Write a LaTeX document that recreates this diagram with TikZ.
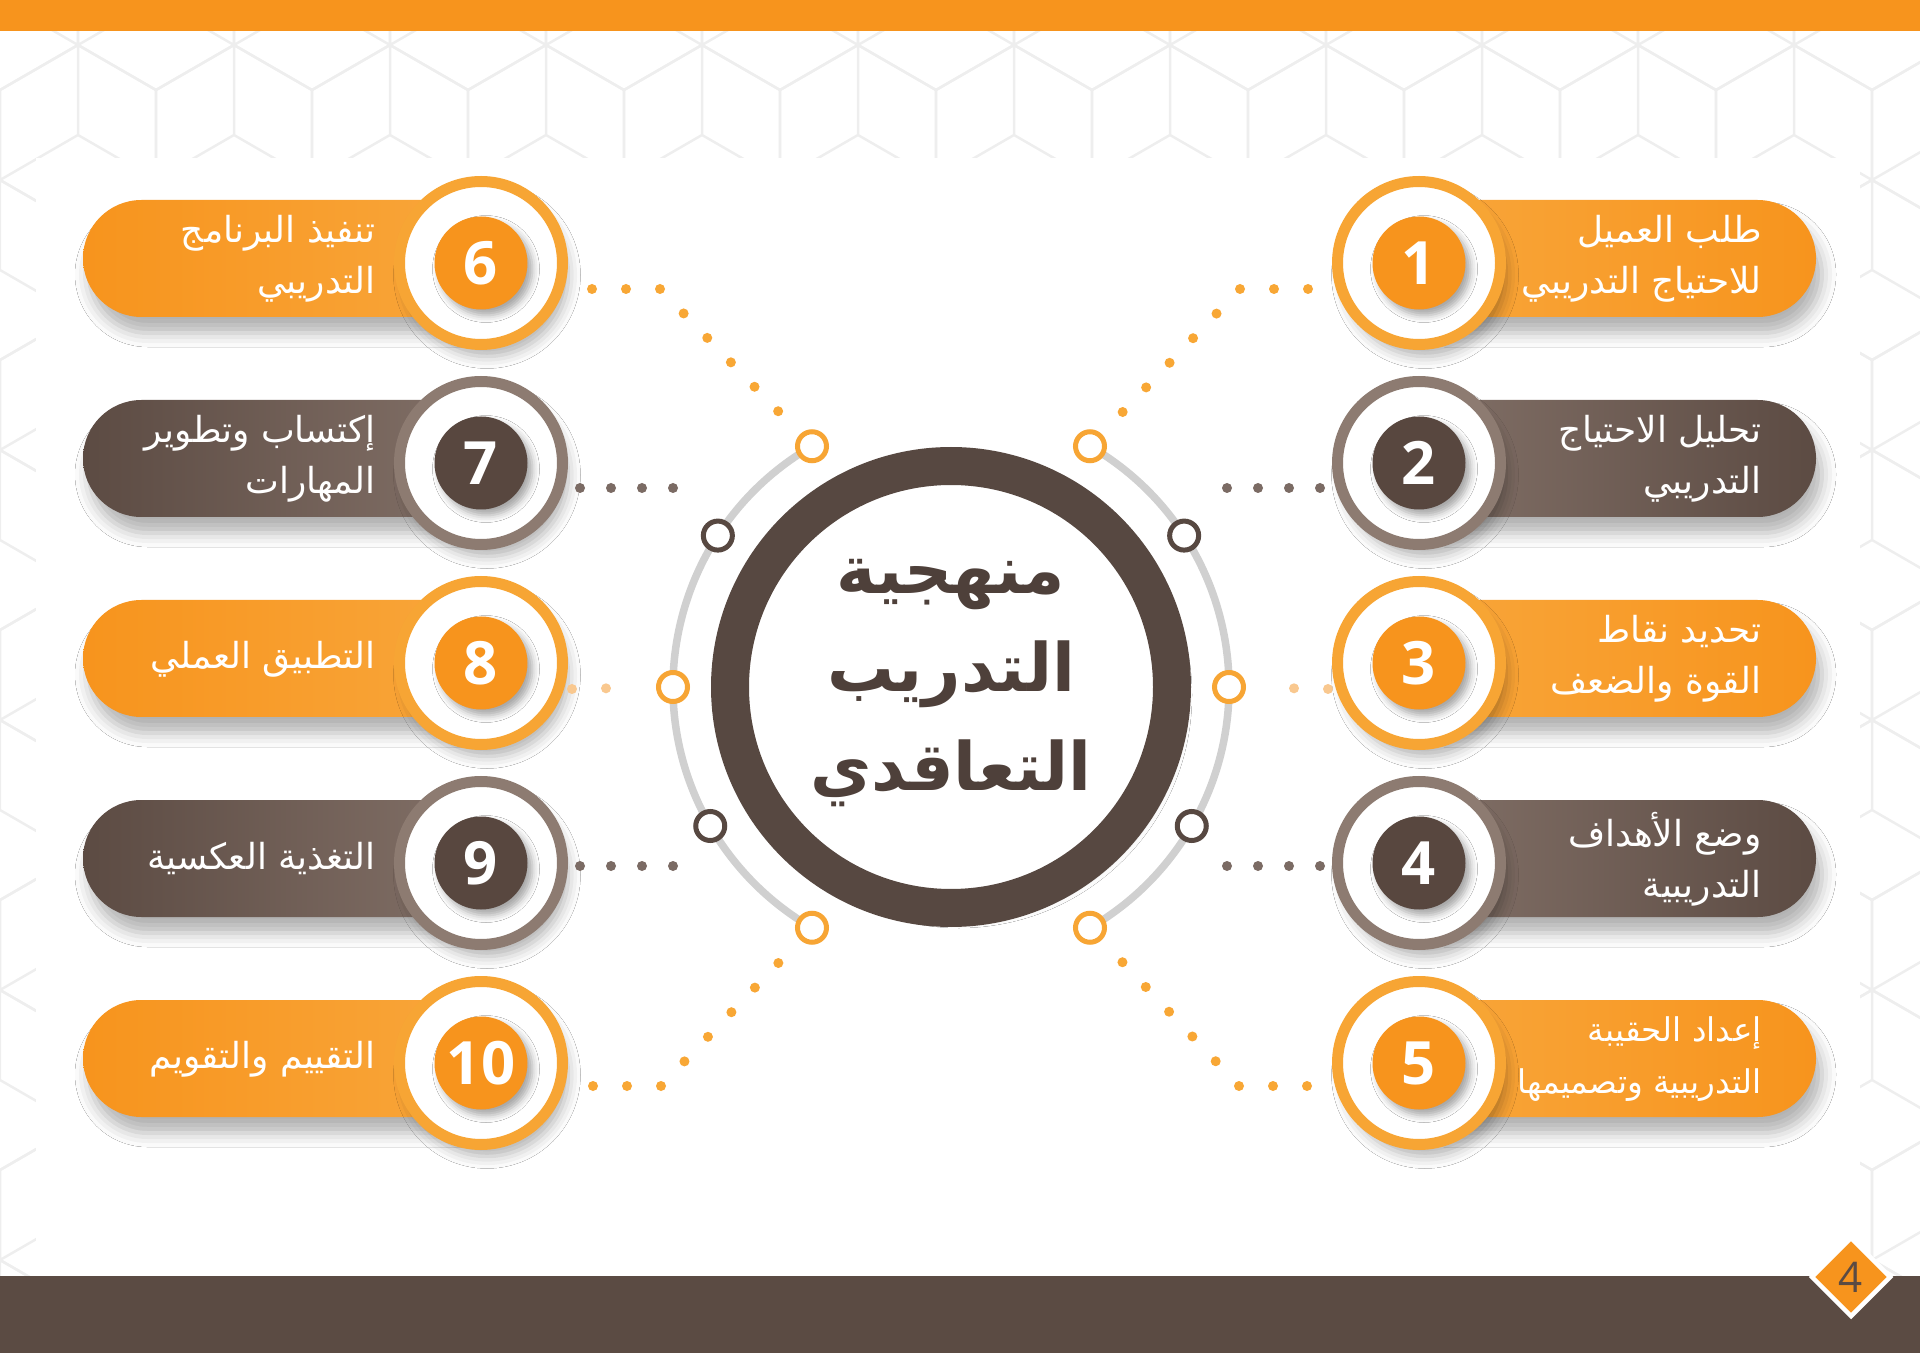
\documentclass[tikz,border=0pt]{standalone}
\usepackage{fontspec}
\newfontfamily\arabicfont[Script=Arabic]{DejaVu Sans}
\newfontfamily\numfont{Open Sans}
\TeXXeTstate=1
\usetikzlibrary{calc,shapes.geometric,shadows.blur}
\definecolor{orng}{HTML}{F7941D}
\definecolor{orlight}{HTML}{F9A83E}
\definecolor{ringorng}{HTML}{F7A534}
\definecolor{brdark}{HTML}{5C4B43}
\definecolor{brlight}{HTML}{86746B}
\definecolor{ringbrn}{HTML}{8D7B71}
\definecolor{diskbrn}{HTML}{58473F}
\definecolor{corebrn}{HTML}{574841}
\definecolor{titlebrn}{HTML}{4E403A}
\definecolor{barbrn}{HTML}{5B4B43}
\definecolor{dotorng}{HTML}{F8A735}
\definecolor{dotpale}{HTML}{F9C88F}
\definecolor{dotbrn}{HTML}{7B6B64}
\definecolor{arcgrey}{HTML}{D0D0D0}
\definecolor{hexgrey}{HTML}{EEEEEE}
\newcommand\ar[1]{\beginR #1\endR}

\begin{document}
\begin{tikzpicture}[x=0.1mm,y=0.1mm,
  pill/.style={rounded corners=5.85mm,blur shadow={shadow xshift=0.6mm,shadow yshift=-1.6mm,shadow blur radius=1.4mm,shadow opacity=30}},
  ring/.style={circle,draw=#1,line width=1.1mm,fill=white,minimum size=16.3mm,inner sep=0pt,
    blur shadow={shadow xshift=0.6mm,shadow yshift=-1.2mm,shadow blur radius=1.2mm,shadow opacity=30}},
  disk/.style={circle,fill=#1,minimum size=9.3mm,inner sep=0pt,text=white,font=\numfont\bfseries\fontsize{17}{17}\selectfont,
    blur shadow={shadow xshift=0.5mm,shadow yshift=-0.6mm,shadow blur radius=0.7mm,shadow opacity=35}},
  steptext/.style={text=white,align=right,anchor=east,font=\arabicfont\fontsize{10.2}{14.6}\selectfont},
  hub/.style={circle,draw=#1,line width=0.5mm,fill=white,minimum size=2.9mm,inner sep=0pt},
  odots/.style={draw=dotorng,line width=1mm,line cap=round,dash pattern=on 0pt off 3.4mm,shorten >=1.8mm},
  bdots/.style={draw=dotbrn,line width=1mm,line cap=round,dash pattern=on 0pt off 3.1mm,shorten >=1.8mm},
  hexline/.style={draw=hexgrey,line width=0.25mm}
]
\useasboundingbox (0,0) rectangle (1920,-1353);
% background
\begin{scope}
\clip (0,0) rectangle (1920,-1353);
\foreach \i in {0,...,13}
  \foreach \j in {0,...,10} {
    \pgfmathsetmacro\xx{\i*156+mod(\j,2)*78}
    \pgfmathsetmacro\yy{-\j*135}
    \draw[hexline] (\xx,\yy) +(30:90) -- +(90:90) -- +(150:90) -- +(210:90) -- +(270:90) -- +(330:90) -- cycle
      (\xx,\yy) -- +(90:90) (\xx,\yy) -- +(210:90) (\xx,\yy) -- +(330:90);
  }
\end{scope}
\fill[white] (36,-158) rectangle (1860,-1276);
\fill[orng] (0,0) rectangle (1920,-31);
\fill[barbrn] (0,-1276) rectangle (1920,-1353);
\node[diamond,fill=orng,draw=white,line width=0.45mm,minimum size=8mm,inner sep=0pt,text=barbrn,font=\numfont\fontsize{12}{12}\selectfont] (page) at (1851,-1277) {4};

% center
\node[circle,draw=corebrn,line width=3.8mm,fill=white,minimum size=44.2mm,inner sep=0pt,
  blur shadow={shadow xshift=0.8mm,shadow yshift=-0.8mm,shadow blur radius=1.2mm,shadow opacity=25}] (core) at (951,-687) {};
\draw[arcgrey,line width=0.75mm] ($(core)+(60:278)$) arc (60:-60:278);
\draw[arcgrey,line width=0.75mm] ($(core)+(120:278)$) arc (120:240:278);
\node[font=\arabicfont\bfseries\fontsize{19}{28}\selectfont,text=titlebrn,align=center] (title) at ($(core)+(0,4)$)
  {\ar{منهجية}\\\ar{التدريب}\\\ar{التعاقدي}};

% items right
\path[pill,left color=orlight,right color=orng] (1380,-200) rectangle (1816,-317);
\node[ring=ringorng] (c1) at (1419,-263) {};
\node[disk=orng] (n1) at (c1) {1};
\node[steptext] (t1) at (1774,-259) {\ar{طلب العميل}\\\ar{للاحتياج التدريبي}};

\path[pill,left color=brlight,right color=brdark] (1380,-400) rectangle (1816,-517);
\node[ring=ringbrn] (c2) at (1419,-463) {};
\node[disk=diskbrn] (n2) at (c2) {2};
\node[steptext] (t2) at (1774,-459) {\ar{تحليل الاحتياج}\\\ar{التدريبي}};

\path[pill,left color=orlight,right color=orng] (1380,-600) rectangle (1816,-717);
\node[ring=ringorng] (c3) at (1419,-663) {};
\node[disk=orng] (n3) at (c3) {3};
\node[steptext] (t3) at (1774,-659) {\ar{تحديد نقاط}\\\ar{القوة والضعف}};

\path[pill,left color=brlight,right color=brdark] (1380,-800) rectangle (1816,-917);
\node[ring=ringbrn] (c4) at (1419,-863) {};
\node[disk=diskbrn] (n4) at (c4) {4};
\node[steptext] (t4) at (1774,-859) {\ar{وضع الأهداف}\\\ar{التدريبية}};

\path[pill,left color=orlight,right color=orng] (1380,-1000) rectangle (1816,-1117);
\node[ring=ringorng] (c5) at (1419,-1063) {};
\node[disk=orng] (n5) at (c5) {5};
\node[steptext,font=\arabicfont\fontsize{9.3}{14.6}\selectfont] (t5) at (1774,-1059) {\ar{إعداد الحقيبة}\\\ar{التدريبية وتصميمها}};

% items left
\path[pill,left color=orng,right color=orlight] (83,-200) rectangle (520,-317);
\node[ring=ringorng] (c6) at (481,-263) {};
\node[disk=orng] (n6) at (c6) {6};
\node[steptext] (t6) at (388,-259) {\ar{تنفيذ البرنامج}\\\ar{التدريبي}};

\path[pill,left color=brdark,right color=brlight] (83,-400) rectangle (520,-517);
\node[ring=ringbrn] (c7) at (481,-463) {};
\node[disk=diskbrn] (n7) at (c7) {7};
\node[steptext] (t7) at (388,-459) {\ar{إكتساب وتطوير}\\\ar{المهارات}};

\path[pill,left color=orng,right color=orlight] (83,-600) rectangle (520,-717);
\node[ring=ringorng] (c8) at (481,-663) {};
\node[disk=orng] (n8) at (c8) {8};
\node[steptext] (t8) at (388,-659) {\ar{التطبيق العملي}};

\path[pill,left color=brdark,right color=brlight] (83,-800) rectangle (520,-917);
\node[ring=ringbrn] (c9) at (481,-863) {};
\node[disk=diskbrn] (n9) at (c9) {9};
\node[steptext] (t9) at (388,-859) {\ar{التغذية العكسية}};

\path[pill,left color=orng,right color=orlight] (83,-1000) rectangle (520,-1117);
\node[ring=ringorng] (c10) at (481,-1063) {};
\node[disk=orng] (n10) at (c10) {10};
\node[steptext] (t10) at (388,-1059) {\ar{التقييم والتقويم}};

% dotted links
\coordinate (s1) at ($(c1.west)+(-24,-26)$);
\coordinate (s2) at ($(c2.west)+(-12,-25)$);
\coordinate (s3) at ($(c3.west)+(-4,-26)$);
\coordinate (s4) at ($(c4.west)+(-12,-3)$);
\coordinate (s5) at ($(c5.west)+(-25,-23)$);
\coordinate (s6) at ($(c6.east)+(24,-26)$);
\coordinate (s7) at ($(c7.east)+(12,-25)$);
\coordinate (s8) at ($(c8.east)+(4,-26)$);
\coordinate (s9) at ($(c9.east)+(12,-3)$);
\coordinate (s10) at ($(c10.east)+(25,-23)$);
\node[hub=ringorng] (h1) at ($(core)+(60:278)$) {};
\node[hub=corebrn] (h2) at ($(core)+(33:278)$) {};
\node[hub=ringorng] (h3) at ($(core)+(0:278)$) {};
\node[hub=corebrn] (h4) at ($(core)+(-30:278)$) {};
\node[hub=ringorng] (h5) at ($(core)+(-60:278)$) {};
\node[hub=ringorng] (h6) at ($(core)+(120:278)$) {};
\node[hub=corebrn] (h7) at ($(core)+(147:278)$) {};
\node[hub=ringorng] (h8) at ($(core)+(180:278)$) {};
\node[hub=corebrn] (h9) at ($(core)+(210:278)$) {};
\node[hub=ringorng] (h10) at ($(core)+(240:278)$) {};
\draw[odots] (s1) -- ++(-68,0) -- (h1);
\draw[bdots] (s2) -- ++(-93,0) -- (h2);
\draw[odots,draw=dotpale] (s3) -- (h3);
\draw[bdots] (s4) -- ++(-93,0) -- (h4);
\draw[odots] (s5) -- ++(-68,0) -- (h5);
\draw[odots] (s6) -- ++(68,0) -- (h6);
\draw[bdots] (s7) -- ++(93,0) -- (h7);
\draw[odots,draw=dotpale] (s8) -- (h8);
\draw[bdots] (s9) -- ++(93,0) -- (h9);
\draw[odots] (s10) -- ++(68,0) -- (h10);
\end{tikzpicture}
\end{document}
